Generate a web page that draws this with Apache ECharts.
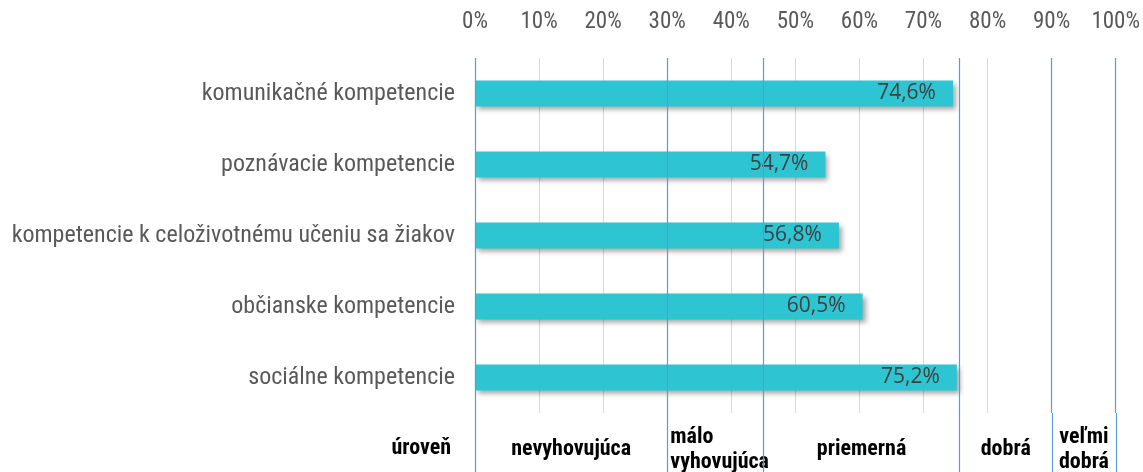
<!DOCTYPE html>
<html>
  <head>
    <meta charset="utf-8" />
    <title>Kompetencie</title>
    <script src="https://cdn.jsdelivr.net/npm/echarts@6/dist/echarts.min.js"></script>
    <style>
      html, body { margin: 0; padding: 0; background: #fff; }
    </style>
  </head>
  <body>
    <div id="main" style="width: 1143px; height: 472px"></div>

    <script type="text/javascript">
      var categories = [
        "komunikačné kompetencie",
        "poznávacie kompetencie",
        "kompetencie k celoživotnému učeniu sa žiakov",
        "občianske kompetencie",
        "sociálne kompetencie",
      ];
      var values = [74.6, 54.7, 56.8, 60.5, 75.2];

      // hranice úrovní (modré čiary) a ich názvy
      var levelBounds = [0, 30, 45, 75.6, 90, 100];
      var levelNames = ["nevyhovujúca", "málo\nvyhovujúca", "priemerná", "dobrá", "veľmi\ndobrá"];
      var levelTitle = "úroveň";

      var condensed = "'Roboto Condensed', 'Liberation Sans Narrow', 'DejaVu Sans Condensed', Roboto, sans-serif";
      var blue = "#5B9BD5";

      var myChart = echarts.init(document.getElementById("main"));

      var boundLines = levelBounds.map(function (v) {
        return { xAxis: v };
      });

      var levelAreas = levelNames.map(function (name, i) {
        var item = { name: name, xAxis: levelBounds[i] };
        if (i === 1) {
          item.label = { position: "insideLeft", distance: 3 };
        }
        return [item, { xAxis: levelBounds[i + 1] }];
      });

      var option = {
        animation: false,
        grid: [
          { left: 475, right: 27, top: 58, height: 355 },
          { left: 475, right: 27, top: 413, bottom: 0 },
        ],
        xAxis: [
          {
            gridIndex: 0,
            type: "value",
            position: "top",
            min: 0,
            max: 100,
            interval: 10,
            axisLine: { show: false },
            axisTick: { show: false },
            axisLabel: {
              formatter: "{value}%",
              color: "#595959",
              fontSize: 23,
              fontFamily: condensed,
              margin: 24,
            },
            splitLine: { lineStyle: { color: "#d9d9d9", width: 1 } },
          },
          { gridIndex: 1, type: "value", min: 0, max: 100, show: false },
        ],
        yAxis: [
          {
            gridIndex: 0,
            type: "category",
            inverse: true,
            data: categories,
            axisLine: { show: false },
            axisTick: { show: false },
            axisLabel: {
              color: "#595959",
              fontSize: 24,
              fontFamily: condensed,
              margin: 20,
            },
          },
          {
            gridIndex: 1,
            type: "category",
            data: [levelTitle],
            axisLine: { show: false },
            axisTick: { show: false },
            axisLabel: {
              color: "#000",
              fontSize: 22,
              fontWeight: "bold",
              fontFamily: condensed,
              margin: 24,
              verticalAlign: "top",
              lineHeight: 12,
            },
          },
        ],
        series: [
          {
            type: "bar",
            xAxisIndex: 0,
            yAxisIndex: 0,
            data: values,
            barWidth: 26,
            itemStyle: {
              color: "#2EC5D3",
              shadowColor: "rgba(0,0,0,0.35)",
              shadowBlur: 5,
              shadowOffsetX: 3,
              shadowOffsetY: 3,
            },
            label: {
              show: true,
              position: "insideRight",
              distance: 17,
              color: "#404040",
              fontSize: 21,
              fontFamily: "'Open Sans', sans-serif",
              formatter: function (p) {
                return p.value.toFixed(1).replace(".", ",") + "%";
              },
            },
            markLine: {
              silent: true,
              z: 10,
              symbol: "none",
              label: { show: false },
              lineStyle: { color: blue, width: 1.2, type: "solid", opacity: 1 },
              data: boundLines,
            },
          },
          {
            type: "line",
            xAxisIndex: 1,
            yAxisIndex: 1,
            data: [],
            markLine: {
              silent: true,
              z: 10,
              symbol: "none",
              label: { show: false },
              lineStyle: { color: blue, width: 1.2, type: "solid", opacity: 1 },
              data: boundLines,
            },
            markArea: {
              silent: true,
              itemStyle: { color: "rgba(0,0,0,0)", borderWidth: 0 },
              label: {
                show: true,
                position: "inside",
                color: "#000",
                fontSize: 22,
                fontWeight: "bold",
                fontFamily: condensed,
                lineHeight: 25,
                offset: [0, 7],
              },
              data: levelAreas,
            },
          },
        ],
      };
      myChart.setOption(option);
    </script>
  </body>
</html>
